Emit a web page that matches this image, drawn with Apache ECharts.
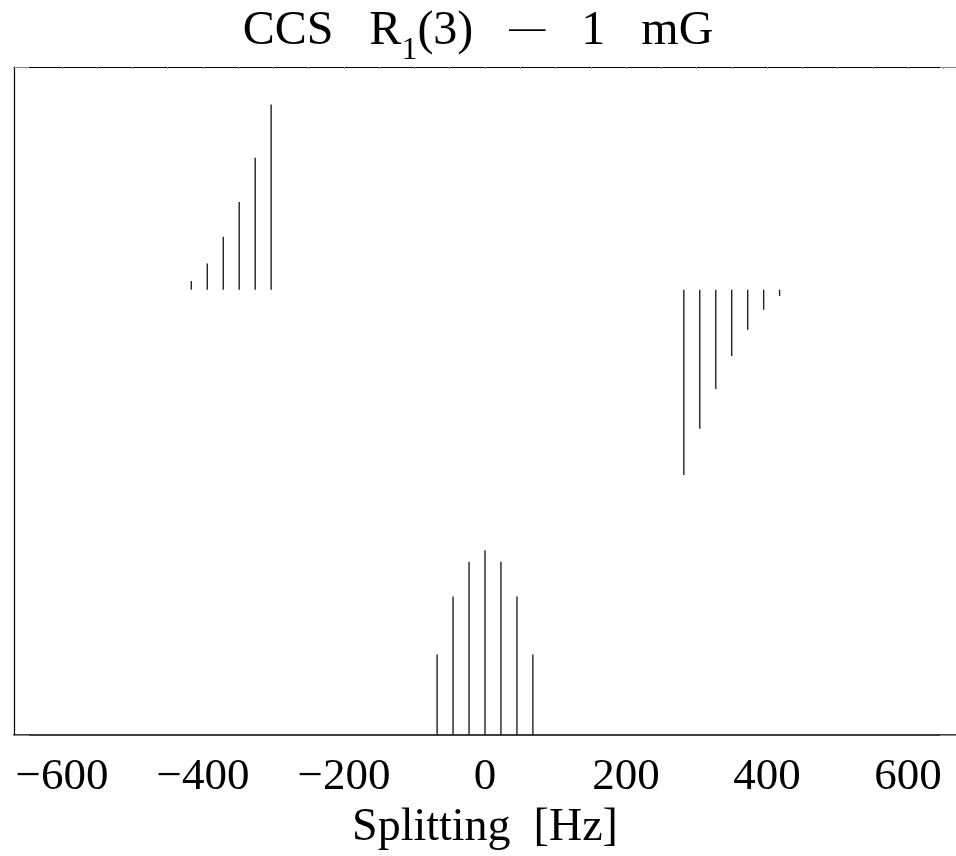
<!DOCTYPE html>
<html>
<head>
<meta charset="utf-8">
<script src="https://cdn.jsdelivr.net/npm/echarts@6/dist/echarts.min.js"></script>
<style>
  html, body { margin: 0; padding: 0; background: #fff; overflow: hidden; }
  #chart { width: 956px; height: 856px; }
</style>
</head>
<body>
<div id="chart"></div>
<script>
// Splitting frequencies [Hz] and line strengths (axis units)
const piFreq = [-67.9, -45.3, -22.6, 0, 22.6, 45.3, 67.9];
const piHeight = [0.181, 0.311, 0.389, 0.415, 0.389, 0.311, 0.181];
const piBase = 0;

const sigmaMinusFreq = [-416.5, -393.9, -371.2, -348.6, -325.9, -303.3];
const sigmaMinusHeight = [0.0195, 0.059, 0.119, 0.197, 0.296, 0.416];

const sigmaPlusFreq = [282.0, 304.6, 327.3, 349.9, 372.6, 395.2, 417.8];
const sigmaPlusHeight = [-0.416, -0.312, -0.223, -0.149, -0.090, -0.045, -0.014];
const sigmaBase = 1.0;

const xTickLabels = [-600, -400, -200, 0, 200, 400, 600];
const xMinorTicks = [-650, -600, -550, -500, -450, -400, -350, -300, -250, -200, -150, -100, -50, 0,
                     50, 100, 150, 200, 250, 300, 350, 400, 450, 500, 550, 600, 650];

function toItems(freqs, heights, base) {
  return freqs.map((f, i) => [f, base, heights[i]]);
}

const stickData = []
  .concat(toItems(sigmaMinusFreq, sigmaMinusHeight, sigmaBase))
  .concat(toItems(sigmaPlusFreq, sigmaPlusHeight, sigmaBase))
  .concat(toItems(piFreq, piHeight, piBase));

const FONT = '"Liberation Serif", "DejaVu Serif", serif';

const chart = echarts.init(document.getElementById('chart'), null, { renderer: 'canvas' });

chart.setOption({
  backgroundColor: '#ffffff',
  animation: false,
  title: {
    text: '{a|CCS   R}{s|1}{a|(3)   }{d|\u2014}{a|   1   mG}',
    left: 'center',
    top: 2,
    textStyle: {
      fontWeight: 'normal',
      rich: {
        a: { fontFamily: FONT, fontSize: 48, fontWeight: 'normal', lineHeight: 48, color: '#000', verticalAlign: 'top' },
        d: { fontFamily: FONT, fontSize: 36, fontWeight: 'normal', lineHeight: 48, color: '#000', verticalAlign: 'top', padding: [5, 0, 0, 0] },
        s: { fontFamily: FONT, fontSize: 32, fontWeight: 'normal', lineHeight: 30, color: '#000', verticalAlign: 'top', padding: [28, 0, 0, 0] }
      }
    }
  },
  grid: {
    left: 14,
    top: 67,
    width: 944,
    height: 670,
    show: false
  },
  xAxis: [
    {
      type: 'value',
      position: 'bottom',
      min: -668,
      max: 668,
      splitLine: { show: false },
      axisLine: { show: true, onZero: false, lineStyle: { color: '#000', width: 1.6 } },
      axisTick: { show: false },
      axisLabel: {
        customValues: xTickLabels,
        margin: 20,
        fontFamily: FONT,
        fontSize: 45,
        color: '#000',
        formatter: v => String(v).replace('-', '\u2212')
      },
      name: 'Splitting  [Hz]',
      nameLocation: 'middle',
      nameGap: 69,
      nameTextStyle: { fontFamily: FONT, fontSize: 46, color: '#000' }
    },
    {
      type: 'value',
      position: 'top',
      min: -668,
      max: 668,
      splitLine: { show: false },
      axisLine: { show: true, onZero: false, lineStyle: { color: '#000', width: 1.2 } },
      axisLabel: { show: false },
      axisTick: {
        show: true,
        inside: true,
        length: 2,
        customValues: xMinorTicks,
        lineStyle: { color: '#999', width: 1 }
      }
    }
  ],
  yAxis: [
    {
      type: 'value',
      position: 'left',
      min: 0,
      max: 1.5,
      interval: 1.5,
      splitLine: { show: false },
      axisLine: { show: true, onZero: false, lineStyle: { color: '#000', width: 1.2 } },
      axisLabel: { show: false },
      axisTick: { show: true, inside: true, length: 15, lineStyle: { color: '#888', width: 1 } }
    },
    {
      type: 'value',
      position: 'right',
      min: 0,
      max: 1.5,
      interval: 1.5,
      splitLine: { show: false },
      axisLine: { show: false, onZero: false },
      axisLabel: { show: false },
      axisTick: { show: true, inside: true, length: 16, lineStyle: { color: '#888', width: 1 } }
    }
  ],
  series: [
    {
      type: 'custom',
      xAxisIndex: 0,
      yAxisIndex: 0,
      silent: true,
      clip: true,
      data: stickData,
      renderItem: function (params, api) {
        const x = api.value(0);
        const base = api.value(1);
        const h = api.value(2);
        const p0 = api.coord([x, base]);
        const p1 = api.coord([x, base + h]);
        return {
          type: 'line',
          shape: { x1: p0[0], y1: p0[1], x2: p1[0], y2: p1[1] },
          style: { stroke: '#222', lineWidth: 1.4 }
        };
      }
    }
  ]
});
</script>
</body>
</html>
